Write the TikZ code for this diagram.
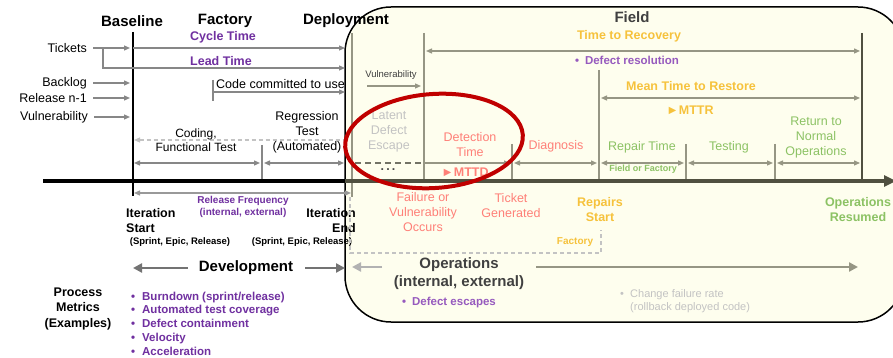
\documentclass[tikz,border=0pt]{standalone}
\usepackage{fontspec}
\setmainfont{Liberation Sans}
\usetikzlibrary{arrows.meta,calc}

\definecolor{metricpurple}{RGB}{112,48,160}
\definecolor{fieldpurple}{RGB}{150,90,190}
\definecolor{recovgold}{RGB}{246,194,60}
\definecolor{detectred}{RGB}{255,128,120}
\definecolor{repairgreen}{RGB}{140,194,100}
\definecolor{fieldcream}{RGB}{254,254,238}
\definecolor{leftgray}{RGB}{135,135,135}
\definecolor{fieldgray}{RGB}{150,150,132}
\definecolor{fielddark}{RGB}{80,80,64}
\definecolor{palegray}{RGB}{195,195,195}
\definecolor{circlered}{RGB}{192,0,0}

\tikzset{
  hdr/.style={font=\fontsize{15}{18}\selectfont\bfseries},
  lbl/.style={font=\fontsize{12.5}{15}\selectfont},
  blbl/.style={font=\fontsize{12.5}{15}\selectfont\bfseries},
  sml/.style={font=\fontsize{9.5}{12}\selectfont\bfseries},
  arr/.style={line width=1.3pt, -{Triangle[length=6pt,width=5pt]}},
  darr/.style={line width=1.3pt, {Triangle[length=6pt,width=5pt]}-{Triangle[length=6pt,width=5pt]}},
  bigarr/.style={line width=2.6pt, -{Triangle[length=9pt,width=9pt]}},
  dashline/.style={line width=1.2pt, dash pattern=on 4pt off 3pt},
}

\begin{document}
\begin{tikzpicture}[x=1pt,y=-1pt,every node/.style={inner sep=0pt,align=center}]
  \useasboundingbox (0,0) rectangle (893,358);
  \fill[white] (0,0) rectangle (893,358);
  \clip (0,0) rectangle (893,358);

  % operations / field panel
  \draw[line width=1.5pt,fill=fieldcream,rounded corners=46pt] (345,7) rectangle (904,322);

  % stops on the time axis
  \coordinate (baseline) at (133,181);
  \coordinate (deploy) at (345,181);
  \coordinate (codetest) at (262,181);
  \coordinate (detect) at (424,181);
  \coordinate (ticket) at (512,181);
  \coordinate (repair) at (599,181);
  \coordinate (testing) at (686,181);
  \coordinate (restore) at (775,181);
  \coordinate (resumed) at (862,181);

  \node[hdr] (hbase) at (132,21) {Baseline};
  \node[hdr] (hfact) at (225,21) {Factory};
  \node[hdr] (hdeploy) at (346,21) {Deployment};
  \node[hdr,text=black!75] (hfield) at (632,17) {Field};

  % development side
  \draw[line width=2pt] (133,32) -- (133,196);
  \node[lbl,anchor=east] (tickets) at (87,48) {Tickets};
  \node[lbl,anchor=east] (backlog) at (87,83) {Backlog};
  \node[lbl,anchor=east] (relprev) at (87,98) {Release n-1};
  \node[lbl,anchor=east] (vulnin) at (88,117) {Vulnerability};
  \foreach \n in {tickets,backlog,relprev,vulnin}
    \draw[arr,leftgray] ($(\n.east)+(6,0)$) -- ($(\n.east -| baseline)+(-3,0)$);

  \node[blbl,text=metricpurple] (cycle) at (223,37) {Cycle Time};
  \draw[arr,leftgray] (baseline |- tickets.east) -- (deploy |- tickets.east);
  \node[blbl,text=metricpurple] (lead) at (221,61) {Lead Time};
  \coordinate (leadrow) at (103,68);
  \draw[arr,leftgray] ($(tickets.east)+(16,0)$) -- (leadrow) -- (leadrow -| deploy);

  \node[lbl,anchor=west] (codeuse) at (216,84) {Code committed to use};
  \coordinate (commit) at (213,92);
  \draw[leftgray,line width=1.3pt] (213,80) -- (213,101);
  \draw[arr,leftgray] (commit) -- (commit -| deploy);

  \draw[palegray,dashline,{Triangle[length=6pt,width=5pt]}-] (134,140) -- (345,140);
  \node[font=\fontsize{12}{14}\selectfont] (coding) at (196,140) {Coding,\\Functional Test};
  \node[lbl] (regress) at (307,132) {Regression\\Test\\(Automated)};
  \draw[leftgray,line width=1.3pt] (262,145) -- (codetest);
  \draw[darr,leftgray] (134,163) -- (260,163);
  \draw[darr,leftgray] (264,163) -- (344,163);

  % field side
  \draw[fieldgray,line width=1.5pt] (352,33) -- (352,197);
  \draw[fieldgray,line width=1.5pt] (424,33) -- (detect);
  \draw[fieldgray,line width=1.5pt] (599,70) -- (repair);
  \foreach \c in {ticket,testing,restore}
    \draw[fieldgray,line width=1.5pt] ($(\c)+(0,-37)$) -- (\c);
  \draw[fielddark,line width=2pt] (862,33) -- (resumed);

  \node[blbl,text=recovgold] (ttr) at (629,36) {Time to Recovery};
  \draw[darr,fieldgray] (426,51) -- (860,51);
  \node[font=\fontsize{11.5}{13}\selectfont\bfseries,text=fieldpurple] (defres) at (627,60) {•\hspace{6pt}Defect resolution};
  \node[font=\fontsize{9.5}{11}\selectfont,text=black!75] (vulnfield) at (391,75) {Vulnerability};
  \draw[arr,fieldgray] (367,86) -- (421,86);
  \node[blbl,text=recovgold] (mttrest) at (691,86) {Mean Time to Restore};
  \draw[darr,fieldgray] (601,98) -- (860,98);
  \node[blbl,text=recovgold] (mttr) at (690,110) {►MTTR};

  \node[lbl,text=palegray] (latent) at (389,131.5) {Latent\\Defect\\Escape};
  \node[lbl,text=detectred] (detection) at (470,144.5) {Detection\\Time};
  \node[lbl,text=detectred] (diagnosis) at (556,146) {Diagnosis};
  \node[lbl,text=repairgreen] (repairtime) at (642,147) {Repair Time};
  \node[font=\fontsize{9}{11}\selectfont\bfseries,text=repairgreen] (fieldfact) at (643,169) {Field or Factory};
  \node[lbl,text=repairgreen] (testtxt) at (729,147) {Testing};
  \node[lbl,text=repairgreen] (returnop) at (816,137.5) {Return to\\Normal\\Operations};

  \draw[fielddark!80,line width=1.3pt,dash pattern=on 6pt off 4pt] (355,163) -- (424,163);
  \draw[arr,fieldgray] ($(detect)+(0,-18)$) -- ($(ticket)+(-2,-18)$);
  \foreach \a/\b in {ticket/repair,repair/testing,testing/restore,restore/resumed}
    \draw[darr,fieldgray] ($(\a)+(2,-18)$) -- ($(\b)+(-2,-18)$);
  \node[blbl,text=black!70] (dots) at (388,170) {.\,.\,.};
  \node[blbl,text=detectred] (mttd) at (465,172) {►MTTD};

  % time axis
  \draw[line width=3.5pt] (43,181) -- (deploy);
  \draw[line width=3.5pt,fielddark,-{Triangle[length=12pt,width=11pt]}] (deploy) -- (896,181);

  % below the axis
  \draw[darr,black!40] (134,193) -- (351,193);
  \node[font=\fontsize{10}{12}\selectfont\bfseries,text=metricpurple] (relfreq) at (243,207) {Release Frequency\\(internal, external)};
  \node[blbl,align=left,anchor=west] (itstart) at (126,220.5) {Iteration\\Start};
  \node[blbl,align=right,anchor=east] (iterend) at (356,220.5) {Iteration\\End};
  \node[sml] (scopestart) at (180,242) {(Sprint, Epic, Release)};
  \node[sml] (scopeend) at (302,242) {(Sprint, Epic, Release)};

  \node[lbl,text=detectred] (failure) at (423,212) {Failure or\\Vulnerability\\Occurs};
  \node[lbl,text=detectred] (ticketgen) at (511,205.5) {Ticket\\Generated};
  \node[blbl,text=recovgold] (repstart) at (600,209.5) {Repairs\\Start};
  \node[blbl,text=repairgreen] (opsres) at (858,209.5) {Operations\\Resumed};
  \node[font=\fontsize{10}{12}\selectfont\bfseries,text=recovgold] (factory) at (575,242) {Factory};
  \draw[palegray,dashline] (350,197) -- (350,253) -- (601,253) -- (601,230);

  \node[hdr] (dev) at (246,268) {Development};
  \draw[bigarr,black!55] ($(dev.west)+(-11,0)$) -- (dev.west -| baseline);
  \draw[bigarr,black!55] ($(dev.east)+(12,0)$) -- (dev.east -| deploy);
  \node[hdr,text=black!75] (ops) at (459,274) {Operations\\(internal, external)};
  \draw[bigarr,black!30] (382,267) -- (352,267);
  \draw[bigarr,fieldgray] (536,267) -- (858,267);
  \node[font=\fontsize{11.5}{13}\selectfont\bfseries,text=fieldpurple] (escapes) at (449,303) {•\hspace{6pt}Defect escapes};
  \node[font=\fontsize{11}{13}\selectfont,text=palegray,align=left,anchor=west] (cfr) at (620,301.5)
    {\makebox[10pt][l]{•}Change failure rate\\\hspace{10pt}(rollback deployed code)};

  \node[font=\fontsize{12.5}{15.5}\selectfont\bfseries] (procmet) at (78,308.5) {Process\\Metrics\\(Examples)};
  \node[font=\fontsize{11.5}{13.75}\selectfont\bfseries,text=metricpurple,align=left,anchor=west] (metrics) at (131,323.5)
    {\makebox[11pt][l]{•}Burndown (sprint/release)\\\makebox[11pt][l]{•}Automated test coverage\\
     \makebox[11pt][l]{•}Defect containment\\\makebox[11pt][l]{•}Velocity\\\makebox[11pt][l]{•}Acceleration};

  % highlight
  \draw[circlered,line width=4pt,rotate around={4:(434,141)}] (434,141) ellipse [x radius=89, y radius=47];
\end{tikzpicture}
\end{document}
